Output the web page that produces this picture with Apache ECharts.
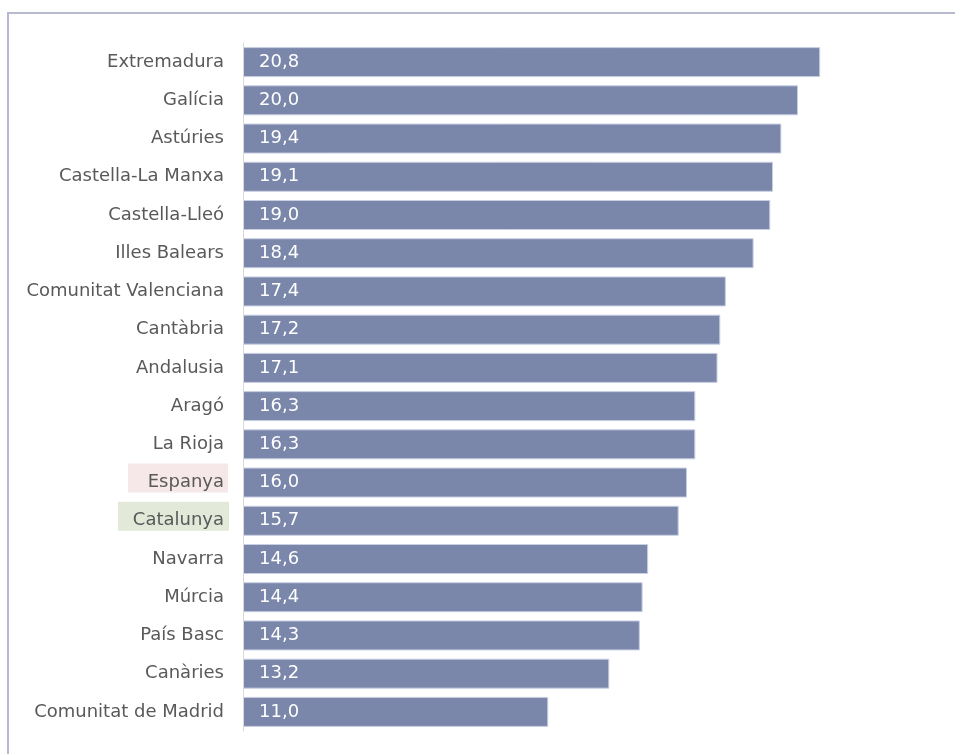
<!DOCTYPE html>
<html>
<head>
<meta charset="utf-8">
<script src="https://cdn.jsdelivr.net/npm/echarts@6/dist/echarts.min.js"></script>
<style>
html,body{margin:0;padding:0;background:#fff;}
#frame{position:absolute;left:7px;top:12px;width:948px;height:742px;border-top:2px solid #b6b9d0;border-left:2px solid #b6b9d0;}
#chart{position:absolute;left:0;top:0;width:955px;height:754px;}
</style>
</head>
<body>
<div id="frame"></div>
<div id="chart"></div>
<script>
const categories = ["Extremadura","Galícia","Astúries","Castella-La Manxa","Castella-Lleó","Illes Balears","Comunitat Valenciana","Cantàbria","Andalusia","Aragó","La Rioja","Espanya","Catalunya","Navarra","Múrcia","País Basc","Canàries","Comunitat de Madrid"];
const values = [20.8,20.0,19.4,19.1,19.0,18.4,17.4,17.2,17.1,16.3,16.3,16.0,15.7,14.6,14.4,14.3,13.2,11.0];
const highlights = ["Espanya","Catalunya"];
const highlightColors = ["#f6e8e8","#e2e9d8"];

const GRID_LEFT = 243;
const chart = echarts.init(document.getElementById('chart'));
chart.setOption({
  animation:false,
  grid:{left:GRID_LEFT, top:43, width:693.75, height:688, containLabel:false},
  xAxis:{type:'value', min:0, max:25, show:false},
  yAxis:{
    type:'category', data:categories, inverse:true, z:5,
    axisLine:{show:true, lineStyle:{color:'#d9d9d9', width:1}},
    axisTick:{show:false},
    axisLabel:{
      margin:19, fontFamily:'DejaVu Sans', fontSize:18, color:'#595959'
    }
  },
  series:[{
    type:'bar', data:values, barWidth:30,
    itemStyle:{color:'#7a87ab', borderColor:'#c9cfe3', borderWidth:1},
    label:{
      show:true, position:'insideLeft', distance:16,
      color:'#ffffff', fontFamily:'DejaVu Sans', fontSize:18,
      formatter:function(p){return p.value.toFixed(1).replace('.',',');}
    }
  }]
});

// highlight boxes behind the Espanya / Catalunya labels, positioned from the axis scale
const boxGeom = [{dx:115, w:100}, {dx:125, w:111}];
const graphics = highlights.map(function(name, i){
  const cy = chart.convertToPixel({yAxisIndex:0}, name);
  return {
    type:'rect', z:-10,
    shape:{x:GRID_LEFT - boxGeom[i].dx, y:cy - 19, width:boxGeom[i].w, height:29},
    style:{fill:highlightColors[i]}
  };
});
chart.setOption({graphic:graphics});
</script>
</body>
</html>
